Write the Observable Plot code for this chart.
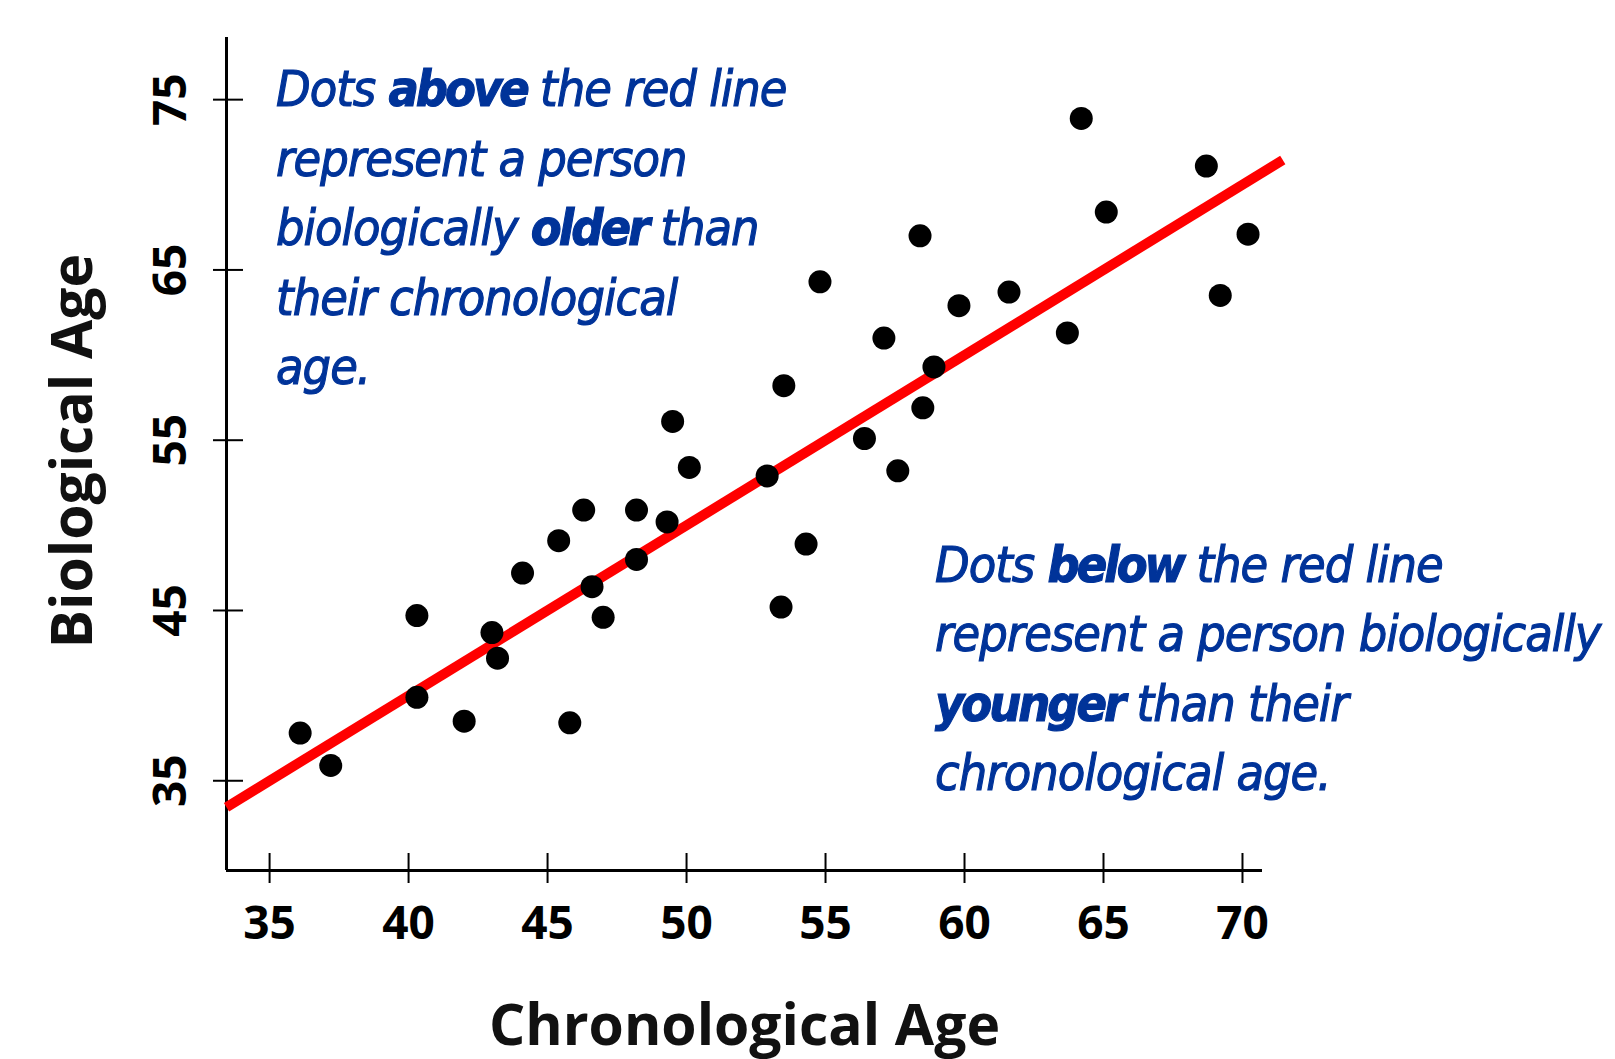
<!DOCTYPE html>
<html><head><meta charset="utf-8">
<script src="https://cdn.jsdelivr.net/npm/d3@7"></script>
<script src="https://cdn.jsdelivr.net/npm/@observablehq/plot@0.6"></script>
<style>
html,body{margin:0;padding:0;background:#fff;}
#chart{position:relative;width:1615px;height:1059px;}
</style></head><body><div id="chart"></div>
<script>
// ---- data ----
const chronologicalAge = [36.1, 37.2, 40.3, 40.3, 42.0, 43.0, 43.2, 44.1, 45.4, 45.8, 46.3, 46.6, 47.0, 48.2, 48.2, 49.3, 49.5, 50.1, 52.9, 53.4, 53.5, 54.3, 54.8, 56.4, 57.1, 57.6, 58.4, 58.5, 58.9, 59.8, 61.6, 63.7, 64.2, 65.1, 68.7, 69.2, 70.2];
const biologicalAge    = [37.8, 35.9, 44.7, 39.9, 38.5, 43.7, 42.2, 47.2, 49.1, 38.4, 50.9, 46.4, 44.6, 50.9, 48.0, 50.2, 56.1, 53.4, 52.9, 45.2, 58.2, 48.9, 64.3, 55.1, 61.0, 53.2, 67.0, 56.9, 59.3, 62.9, 63.7, 61.3, 73.9, 68.4, 71.1, 63.5, 67.1];
const xTicks = [35, 40, 45, 50, 55, 60, 65, 70];
const yTicks = [35, 45, 55, 65, 75];
const identityLine = [33.45, 71.45];   // y = x reference line
const xDomain = [33.45, 70.72];
const yDomain = [29.73, 78.65];
const xLabel = "Chronological Age";
const yLabel = "Biological Age";
const noteAbove = [
  [["Dots ", false], ["above", true], [" the red line", false]],
  [["represent a person", false]],
  [["biologically ", false], ["older", true], [" than", false]],
  [["their chronological", false]],
  [["age.", false]]
];
const noteBelow = [
  [["Dots ", false], ["below", true], [" the red line", false]],
  [["represent a person biologically", false]],
  [["younger", true], [" than their", false]],
  [["chronological age.", false]]
];

// ---- layout ----
const W = 1615, H = 1059, mL = 226, mR = 353, mT = 37, mB = 189;
const frameW = W - mL - mR, frameH = H - mT - mB;
const people = chronologicalAge.map((c, i) => ({c, b: biologicalAge[i]}));
const sans = "'Open Sans', 'Liberation Sans', sans-serif";

const plot = Plot.plot({
  width: W, height: H,
  marginLeft: mL, marginRight: mR, marginTop: mT, marginBottom: mB,
  x: {domain: xDomain, axis: null},
  y: {domain: yDomain, axis: null},
  style: {background: "#fff", fontFamily: sans, overflow: "visible"},
  marks: [
    Plot.ruleX(xTicks, {x: d => d, insetTop: frameH - 17, insetBottom: -13, stroke: "#000", strokeWidth: 2}),
    Plot.ruleY(yTicks, {y: d => d, insetLeft: -13, insetRight: frameW - 17, stroke: "#000", strokeWidth: 2}),
    Plot.ruleX([xDomain[0]], {stroke: "#000", strokeWidth: 3}),
    Plot.ruleY([yDomain[0]], {stroke: "#000", strokeWidth: 3}),
    Plot.text(xTicks, {x: d => d, text: d => String(d), frameAnchor: "bottom", dy: 54, lineAnchor: "middle",
      textAnchor: "middle", fontSize: 46, fontWeight: 700, fill: "#000"}),
    Plot.text(yTicks, {y: d => d, text: d => String(d), frameAnchor: "left", dx: -55, rotate: -90, lineAnchor: "middle",
      textAnchor: "middle", fontSize: 46, fontWeight: 700, fill: "#000"}),
    Plot.text([xLabel], {text: d => d, frameAnchor: "bottom", dy: 156, lineAnchor: "middle",
      textAnchor: "middle", fontSize: 57, fontWeight: 700, fill: "#111"}),
    Plot.text([yLabel], {text: d => d, frameAnchor: "left", dx: -153, dy: -3, rotate: -90, lineAnchor: "middle",
      textAnchor: "middle", fontSize: 57, fontWeight: 700, fill: "#111"}),
    Plot.line(identityLine, {x: d => d, y: d => d, stroke: "#ff0000", strokeWidth: 10, strokeLinecap: "butt"}),
    Plot.dot(people, {x: "c", y: "b", r: 11.5, fill: "#000"})
  ]
});

// ---- annotations (mixed italic / bold-italic runs) ----
const svg = d3.select(plot);
function addNote(lines, x, y0, step) {
  const t = svg.append("text")
    .attr("font-family", "'DejaVu Sans Condensed', 'Liberation Sans Narrow', 'DejaVu Sans', sans-serif")
    .attr("font-stretch", "condensed")
    .attr("font-style", "italic")
    .attr("font-size", 50)
    .attr("text-anchor", "start")
    .attr("fill", "#003399")
    .attr("stroke", "#003399")
    .attr("stroke-width", 1.1)
    .style("white-space", "pre");
  lines.forEach((segs, i) => {
    segs.forEach(([s, b], j) => {
      const ts = t.append("tspan").text(s)
        .attr("font-weight", b ? 700 : 400)
        .attr("letter-spacing", b ? -3 : -1);
      if (j === 0) ts.attr("x", x).attr("y", y0 + i * step);
    });
  });
}
addNote(noteAbove, 276, 106, 69.5);
addNote(noteBelow, 935, 582, 69.3);

document.getElementById("chart").appendChild(plot);
</script></body></html>
